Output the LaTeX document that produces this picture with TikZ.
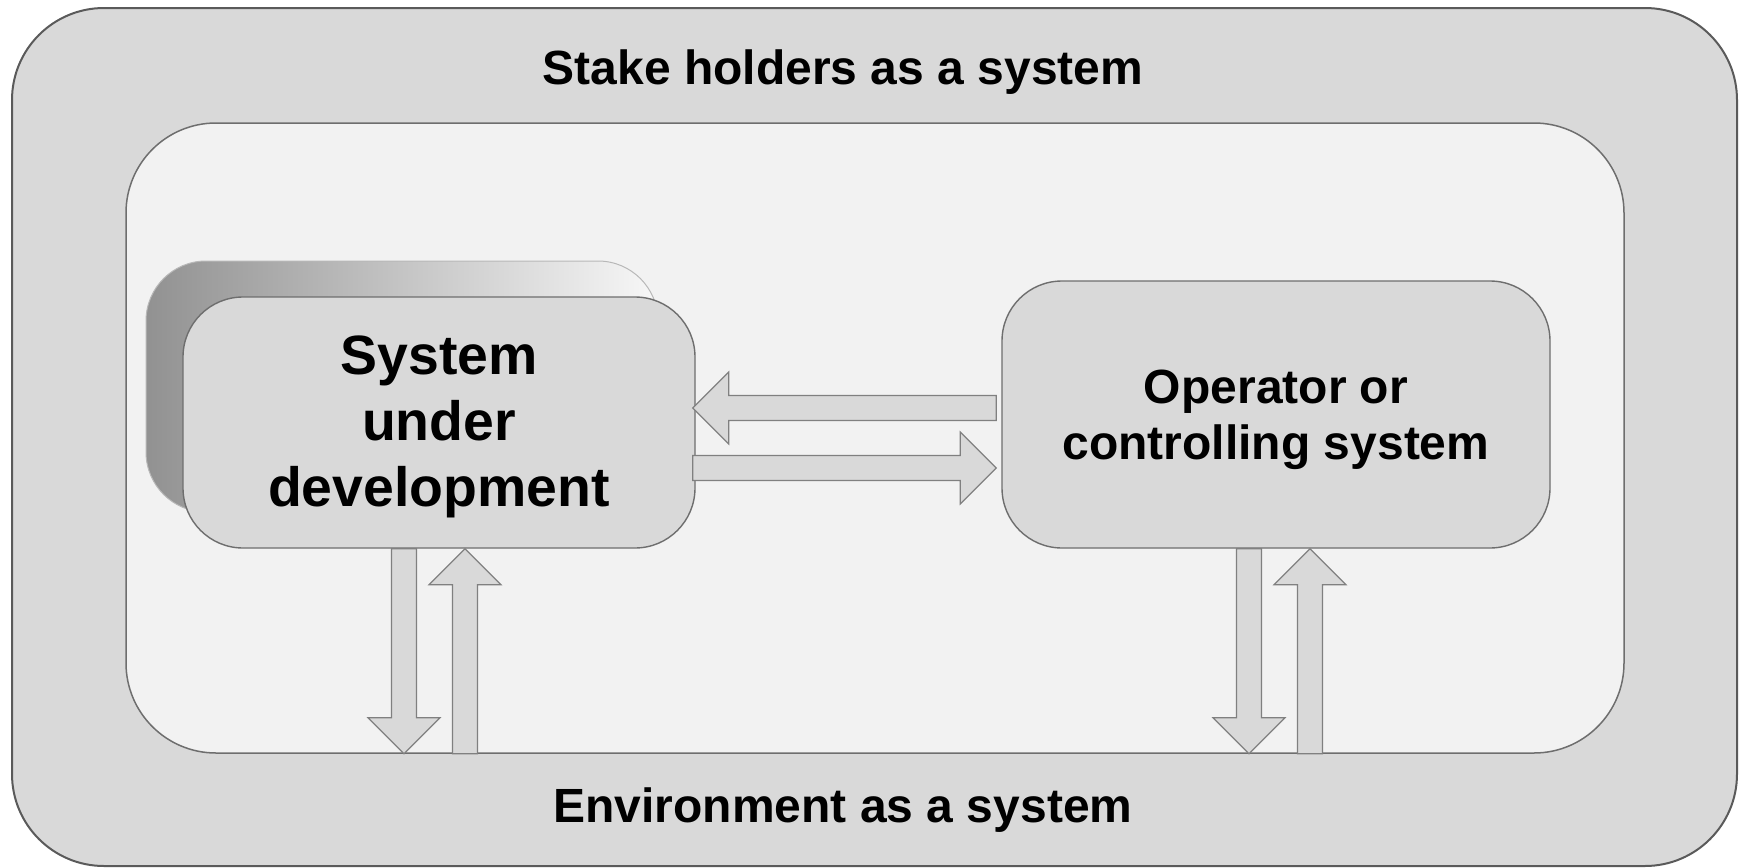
\documentclass[tikz,border=0pt]{standalone}
\usepackage{fontspec}
\setmainfont{Liberation Sans}
\usetikzlibrary{calc}

\definecolor{panel}{HTML}{D9D9D9}
\definecolor{field}{HTML}{F2F2F2}
\definecolor{edge}{HTML}{6E6E6E}
\definecolor{rim}{HTML}{5A5A5A}
\definecolor{arrowline}{HTML}{808080}

\tikzset{
  % one unit = one pixel of the 1742 x 868 canvas, y pointing down
  x=0.5pt, y=-0.5pt,
  frame/.style={rectangle, draw=rim, line width=1pt, fill=panel,
    rounded corners=46pt, inner sep=0pt},
  yard/.style={rectangle, draw=edge, line width=0.75pt, fill=field,
    rounded corners=45pt, inner sep=0pt},
  unit/.style={rectangle, draw=edge, line width=0.7pt, fill=panel,
    rounded corners=30pt, inner sep=0pt, align=center, font=\bfseries},
  unitshadow/.style={rectangle, draw=black!28, line width=0.5pt,
    left color=black!43, right color=black!3, rounded corners=30pt, inner sep=0pt},
  heading/.style={font=\fontsize{24pt}{27.6pt}\selectfont\bfseries, inner sep=0pt, anchor=base},
  % hollow block arrow running from the start point to the tip
  fat/.style={draw=arrowline, fill=panel, line width=0.6pt, line join=miter,
    to path={let \p1=(\tikztostart), \p2=(\tikztotarget),
      \n1={atan2(\y2-\y1,\x2-\x1)} in
      ($(\p1)+(\n1+90:6.25pt)$)
      -- ($(\p2)+(\n1:-18pt)+(\n1+90:6.25pt)$)
      -- ($(\p2)+(\n1:-18pt)+(\n1+90:18pt)$)
      -- (\p2)
      -- ($(\p2)+(\n1:-18pt)+(\n1-90:18pt)$)
      -- ($(\p2)+(\n1:-18pt)+(\n1-90:6.25pt)$)
      -- ($(\p1)+(\n1-90:6.25pt)$) -- cycle}},
}

\begin{document}
\begin{tikzpicture}
\useasboundingbox (0,0) rectangle (1742,868);

% nested system boundaries
\node[frame, minimum width=862.5pt, minimum height=429pt] (outer) at (874.5,437) {};
\node[yard, minimum width=749pt, minimum height=315pt] (inner) at (875,438) {};

\node[heading] (stake) at (843,84) {Stake holders as a system};
\node[heading] (env) at (843,822) {Environment as a system};

% system under development with its offset shadow
\node[unitshadow, minimum width=256pt, minimum height=125.5pt] (sudshadow) at (402,386.5) {};
\node[unit, minimum width=256pt, minimum height=125.5pt,
      font=\fontsize{27.7pt}{33pt}\selectfont\bfseries] (sud) at (439,422.5)
  {\rule{0pt}{24pt}System\\under\\development};

% operator
\node[unit, minimum width=274pt, minimum height=133.5pt,
      font=\fontsize{24pt}{27.6pt}\selectfont\bfseries] (op) at (1276,414.5)
  {\rule{0pt}{22pt}Operator or\\controlling system};

% arrow end points
\coordinate (a1s) at ($(op.west)+(-5,-6.5)$);
\coordinate (a1e) at ($(sud.east)+(-3,-14.5)$);
\coordinate (a2s) at ($(sud.east)+(-3,45.5)$);
\coordinate (a2e) at ($(op.west)+(-5,53.5)$);

\coordinate (d1s) at ($(sud.south)+(-35,0)$);
\coordinate (d1e) at (d1s |- inner.south);
\coordinate (u1e) at ($(sud.south)+(26,0)$);
\coordinate (u1s) at (u1e |- inner.south);

\coordinate (d2s) at ($(op.south)+(-27,0)$);
\coordinate (d2e) at (d2s |- inner.south);
\coordinate (u2e) at ($(op.south)+(34,0)$);
\coordinate (u2s) at (u2e |- inner.south);

% exchanges between the systems
\draw[fat] (a1s) to (a1e);
\draw[fat] (a2s) to (a2e);
\draw[fat] (d1s) to (d1e);
\draw[fat] (u1s) to (u1e);
\draw[fat] (d2s) to (d2e);
\draw[fat] (u2s) to (u2e);
\end{tikzpicture}
\end{document}
